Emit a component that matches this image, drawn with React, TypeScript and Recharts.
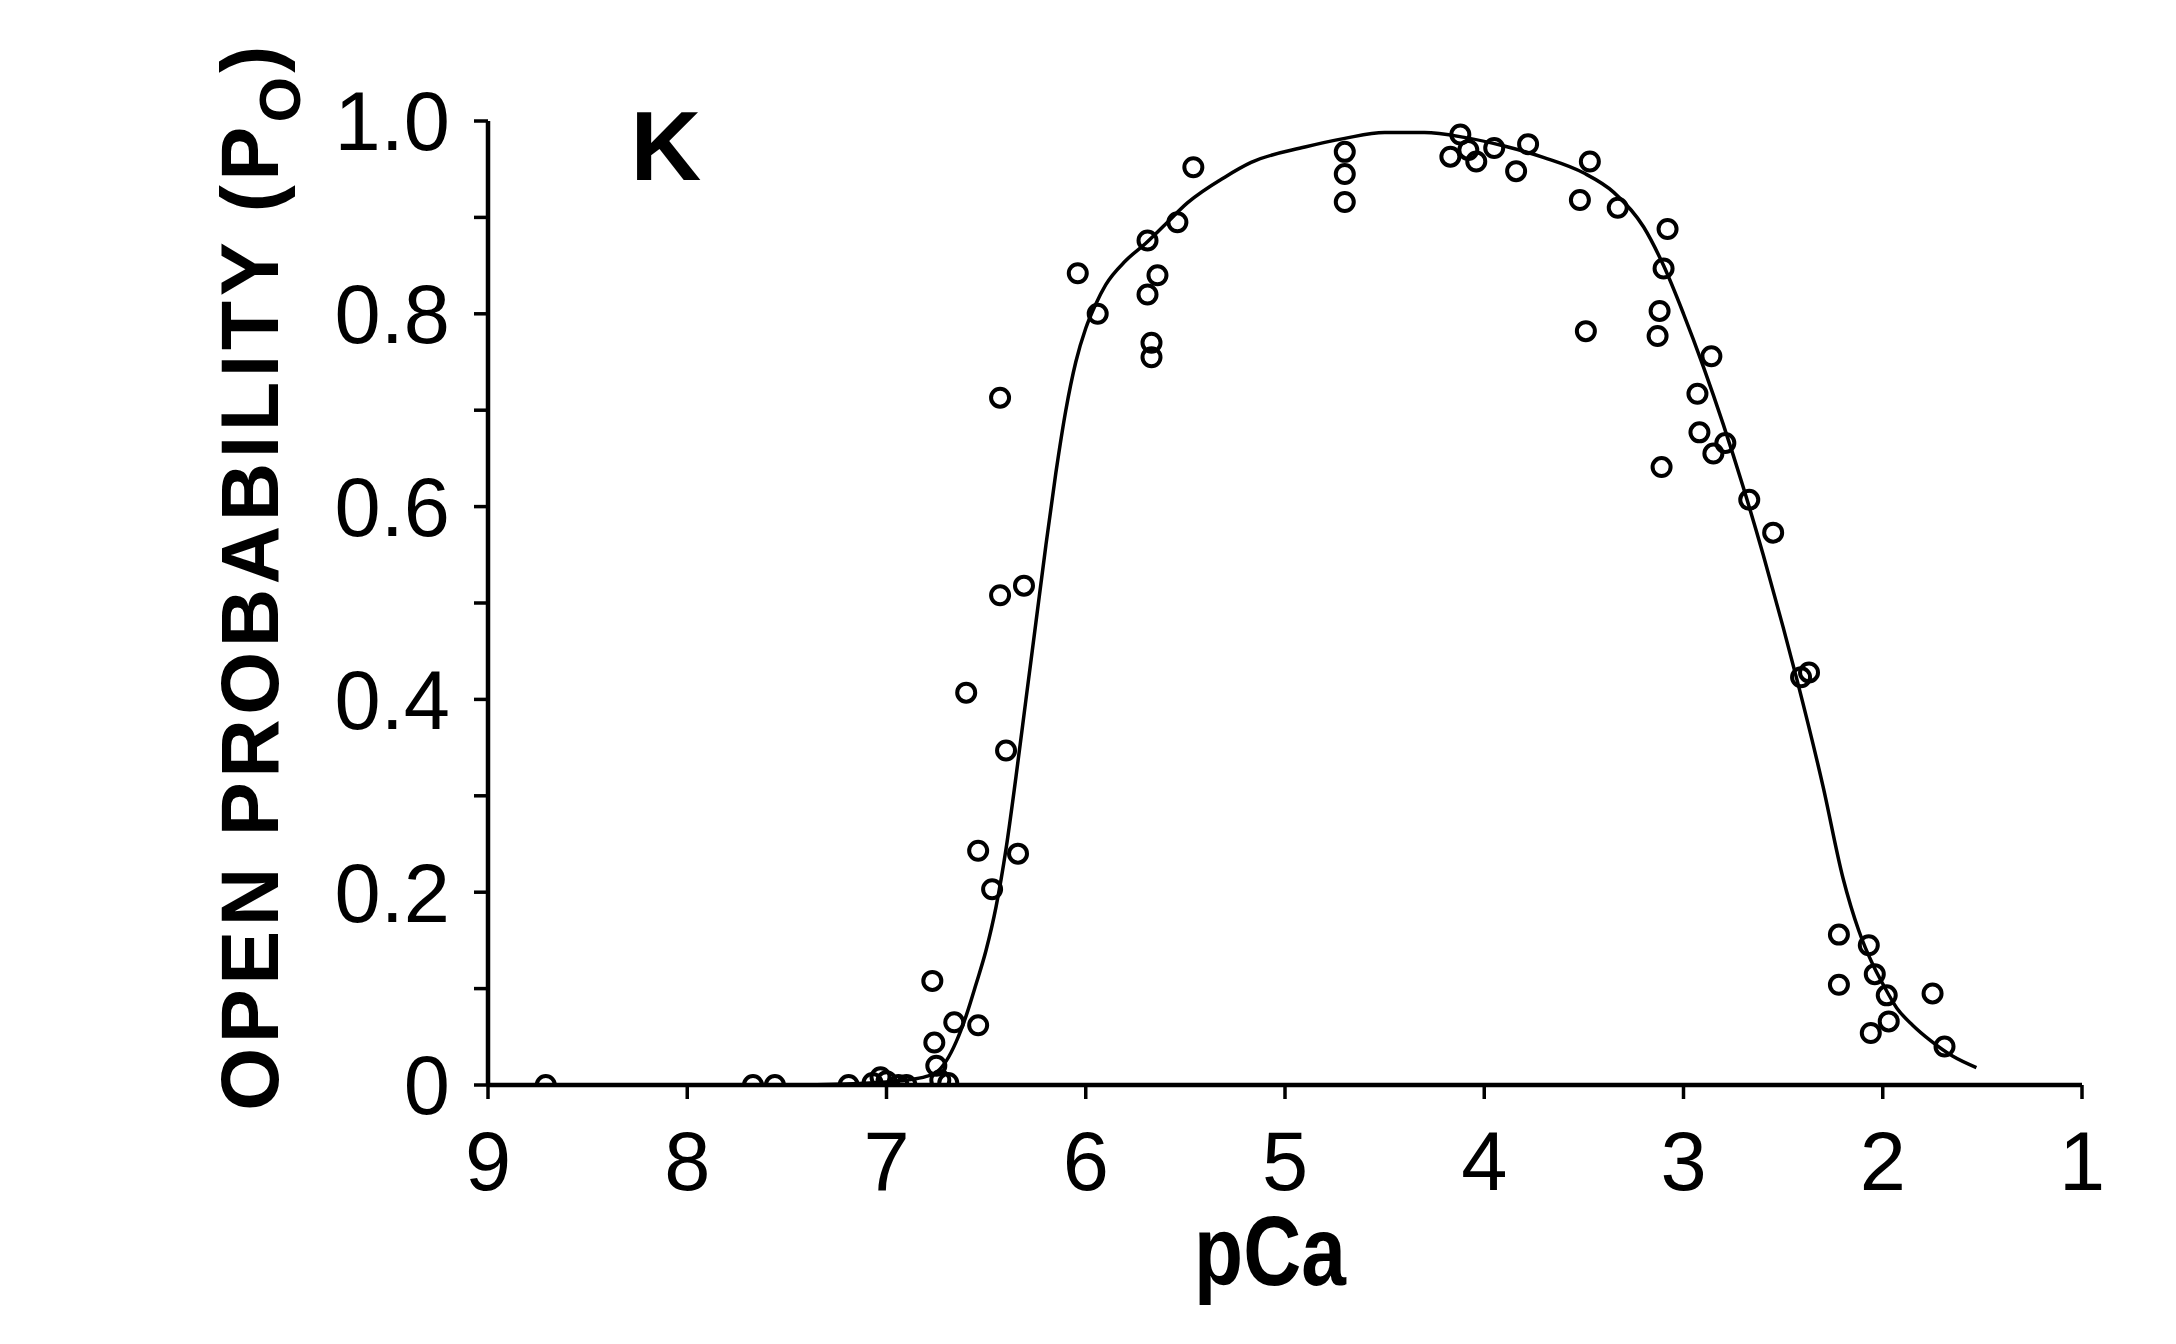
import React from 'react';
import { ComposedChart, Scatter, Line, XAxis, YAxis, Label } from 'recharts';

// pCa axis ticks (reversed: 9 on the left, 1 on the right)
const pCaTicks = [9, 8, 7, 6, 5, 4, 3, 2, 1];
// Po axis ticks, labelled every other one
const poTicks = [0, 0.1, 0.2, 0.3, 0.4, 0.5, 0.6, 0.7, 0.8, 0.9, 1.0];
const poTickLabels = ['0', '', '0.2', '', '0.4', '', '0.6', '', '0.8', '', '1.0'];

// single-channel measurements
const obsPCa = [
  8.71, 7.67, 7.56, 7.19, 7.07, 7.03, 7.0, 6.94, 6.9,
  6.77, 6.76, 6.75, 6.73, 6.69, 6.66, 6.54, 6.6, 6.54, 6.47, 6.43, 6.43, 6.4, 6.34, 6.31,
  6.04, 5.94, 5.69, 5.69, 5.64, 5.67, 5.67, 5.54, 5.46,
  4.7, 4.7, 4.7, 4.17, 4.12, 4.08, 4.04, 3.95, 3.84, 3.78, 3.47, 3.52, 3.33, 3.49,
  3.08, 3.1, 3.12, 3.13, 3.11, 2.86, 2.93, 2.92, 2.79, 2.85, 2.67, 2.55, 2.41, 2.37,
  2.22, 2.22, 2.07, 2.04, 1.98, 1.97, 2.06, 1.75, 1.69,
];
const obsPo = [
  0, 0, 0, 0, 0.002, 0.008, 0.004, 0, 0,
  0.108, 0.044, 0.02, 0.005, 0.002, 0.065, 0.062, 0.407, 0.243, 0.203, 0.713, 0.508, 0.347, 0.24, 0.518,
  0.842, 0.8, 0.876, 0.82, 0.84, 0.77, 0.755, 0.895, 0.952,
  0.968, 0.945, 0.916, 0.963, 0.986, 0.97, 0.958, 0.972, 0.948, 0.976, 0.958, 0.918, 0.91, 0.782,
  0.888, 0.847, 0.803, 0.777, 0.641, 0.756, 0.717, 0.677, 0.666, 0.655, 0.607, 0.573, 0.423, 0.428,
  0.156, 0.104, 0.145, 0.115, 0.093, 0.066, 0.054, 0.095, 0.04,
];

// fitted curve
const fitPCa = [
  9.0, 8.5, 8.0, 7.5, 7.2, 7.0, 6.9, 6.8, 6.75, 6.7, 6.65, 6.6, 6.55, 6.5, 6.45, 6.4, 6.35,
  6.3, 6.25, 6.2, 6.15, 6.1, 6.05, 6.0, 5.95, 5.9, 5.8, 5.7, 5.6, 5.49, 5.3, 5.17,
  4.9, 4.7, 4.5, 4.3, 4.1, 3.9, 3.7, 3.5, 3.35, 3.2, 3.1, 3.0, 2.9, 2.8, 2.7, 2.6, 2.5,
  2.43, 2.3, 2.2, 2.12, 2.05, 2.0, 1.93, 1.85, 1.76, 1.65, 1.53,
];
const fitPo = [
  0, 0, 0, 0, 0.001, 0.003, 0.005, 0.009, 0.013, 0.025, 0.045, 0.072, 0.105, 0.14, 0.185, 0.245, 0.32,
  0.4, 0.48, 0.56, 0.635, 0.7, 0.75, 0.785, 0.81, 0.83, 0.855, 0.873, 0.893, 0.915, 0.942, 0.957,
  0.973, 0.982, 0.988, 0.988, 0.983, 0.974, 0.962, 0.946, 0.926, 0.89, 0.85, 0.8, 0.745, 0.685, 0.62, 0.55, 0.475,
  0.42, 0.31, 0.215, 0.16, 0.125, 0.105, 0.08, 0.062, 0.046, 0.03, 0.018,
];

const observed = obsPCa.map((x, i) => ({ x, y: obsPo[i] }));
const fitted = fitPCa.map((x, i) => ({ x, y: fitPo[i] }));

const tickFont = { fontFamily: '"Liberation Sans", Arial, sans-serif', fontSize: 83, fill: '#000' };

const OpenCircle = (props: any) => {
  const { cx, cy } = props;
  if (cx == null || cy == null) return null;
  return <circle cx={cx} cy={cy} r={9} fill="none" stroke="#000" strokeWidth={4} />;
};

const YTitle = (props: any) => {
  const { viewBox } = props;
  const x = viewBox.x + 98;
  const y = viewBox.y + viewBox.height / 2 - 27;
  return (
    <text
      transform={`translate(${x},${y}) rotate(-90)`}
      textAnchor="middle"
      fontFamily='"Liberation Sans", Arial, sans-serif'
      fontWeight="bold"
      fontSize={81}
      letterSpacing={4.5}
      fill="#000"
    >
      OPEN PROBABILITY (P
      <tspan fontSize={58} dy={22}>O</tspan>
      <tspan dy={-22}>)</tspan>
    </text>
  );
};

const XTitle = (props: any) => {
  const { viewBox } = props;
  const x = viewBox.x + viewBox.width / 2 - 15;
  const y = viewBox.y + 200;
  return (
    <text
      transform={`translate(${x},${y}) scale(0.82,1)`}
      textAnchor="middle"
      fontFamily='"Liberation Sans", Arial, sans-serif'
      fontWeight="bold"
      fontSize={98}
      fill="#000"
    >
      pCa
    </text>
  );
};

export default function App() {
  return (
    <div style={{ position: 'absolute', left: 0, top: 0, width: 2176, height: 1344, background: '#fff' }}>
      <ComposedChart
        width={2176}
        height={1344}
        margin={{ top: 121, right: 94, left: 180, bottom: 59 }}
      >
        <XAxis
          type="number"
          dataKey="x"
          domain={[1, 9]}
          reversed
          ticks={pCaTicks}
          interval={0}
          allowDataOverflow
          height={200}
          axisLine={{ stroke: '#000', strokeWidth: 4.5 }}
          tickLine={{ stroke: '#000', strokeWidth: 3.5 }}
          tickSize={14}
          tickMargin={32}
          tick={tickFont}
        >
          <Label content={<XTitle />} />
        </XAxis>
        <YAxis
          type="number"
          dataKey="y"
          domain={[0, 1]}
          ticks={poTicks}
          interval={0}
          allowDataOverflow
          width={308}
          axisLine={{ stroke: '#000', strokeWidth: 4.5 }}
          tickLine={{ stroke: '#000', strokeWidth: 3.5 }}
          tickSize={14}
          tickMargin={24}
          tick={tickFont}
          tickFormatter={(v: number, i: number) => poTickLabels[i] ?? ''}
        >
          <Label content={<YTitle />} />
        </YAxis>
        <Line
          data={fitted}
          dataKey="y"
          type="monotone"
          stroke="#000"
          strokeWidth={3.5}
          dot={false}
          activeDot={false}
          isAnimationActive={false}
        />
        <Scatter
          data={observed}
          dataKey="y"
          shape={<OpenCircle />}
          isAnimationActive={false}
        />
      </ComposedChart>
      <svg
        width={2176}
        height={1344}
        style={{ position: 'absolute', left: 0, top: 0, pointerEvents: 'none' }}
      >
        <text
          x={666}
          y={180}
          textAnchor="middle"
          fontFamily='"Liberation Sans", Arial, sans-serif'
          fontWeight="bold"
          fontSize={98}
          fill="#000"
        >
          K
        </text>
      </svg>
    </div>
  );
}
